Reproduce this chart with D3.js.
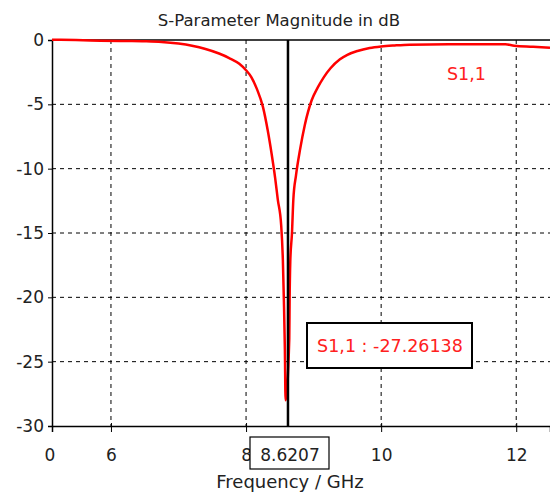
<!DOCTYPE html>
<html>
<head>
<meta charset="utf-8">
<script src="https://cdn.jsdelivr.net/npm/d3@7"></script>
<style>
  html, body { margin: 0; padding: 0; background: white; }
  text { font-family: "DejaVu Sans", Verdana, sans-serif; }
</style>
</head>
<body>
<script>
// S1,1 trace (GHz, dB)
const freq = [5.127, 5.48, 5.84, 6.2, 6.5, 6.75, 7.0, 7.2, 7.4, 7.6, 7.75,
  7.9, 8.0, 8.08, 8.16, 8.25, 8.32, 8.38, 8.43, 8.47, 8.52, 8.545, 8.56,
  8.575, 8.585, 8.64, 8.645, 8.655, 8.68, 8.70, 8.74, 8.80, 8.87, 8.97, 9.06,
  9.15, 9.25, 9.39, 9.5, 9.65, 9.83, 10.0, 10.2, 10.42, 11.0, 11.84, 11.97,
  12.25, 12.5]
const s11 = [0.02, 0, -0.05, -0.08, -0.1, -0.15, -0.28, -0.45, -0.7, -1.05,
  -1.4, -1.85, -2.35, -2.9, -3.8, -5.2, -7.0, -8.9, -10.7, -12.4, -14.4, -17.1,
  -20.2, -24.1, -28.0, -23.2, -20.2, -17.2, -15.0, -12.4, -10.5, -8.5, -6.6,
  -4.7, -3.7, -2.9, -2.2, -1.5, -1.15, -0.85, -0.62, -0.5, -0.42, -0.36, -0.33,
  -0.33, -0.44, -0.52, -0.6]

const xTicks = [6, 8, 10, 12]
const yTicks = [0, -5, -10, -15, -20, -25, -30]
const xDomain = [5.127, 12.5]
const originLabel = "0"

const markerFreq = 8.6207
const markerLabel = "8.6207"
const markerValue = "S1,1 : -27.26138"

// plot box in pixels
const width = 550,
  height = 493,
  pLeft = 52,
  pRight = 550,
  pTop = 40,
  pBottom = 426

const svg = d3.select("body")
  .append("svg")
  .attr("width", width)
  .attr("height", height)

const x = d3.scaleLinear().domain(xDomain).range([pLeft, pRight])
const y = d3.scaleLinear().domain([-30, 0]).range([pBottom, pTop])

// title
svg.append("text")
  .text("S-Parameter Magnitude in dB")
  .attr("x", 279)
  .attr("y", 26)
  .attr("text-anchor", "middle")
  .style("font-size", "16.5px")
  .style("fill", "#222")

// dashed grid
svg.append("g")
  .selectAll("line")
  .data(yTicks.filter(d => d !== 0 && d !== -30))
  .join("line")
  .attr("x1", pLeft).attr("x2", pRight)
  .attr("y1", d => y(d)).attr("y2", d => y(d))
  .attr("stroke", "black")
  .attr("stroke-dasharray", "4,4")
svg.append("g")
  .selectAll("line")
  .data(xTicks)
  .join("line")
  .attr("x1", d => x(d)).attr("x2", d => x(d))
  .attr("y1", pTop).attr("y2", pBottom)
  .attr("stroke", "black")
  .attr("stroke-dasharray", "4,4")

// frame top
svg.append("line")
  .attr("x1", pLeft).attr("x2", pRight)
  .attr("y1", pTop).attr("y2", pTop)
  .attr("stroke", "black").attr("stroke-width", 1.5)

// y axis (plain hyphen minus like the original)
const yAxis = svg.append("g")
  .attr("transform", `translate(${pLeft},0)`)
  .call(d3.axisLeft(y).tickValues(yTicks).tickSize(4).tickPadding(4)
    .tickFormat(d => String(d)))
yAxis.select(".domain").attr("stroke-width", 1.5)
yAxis.selectAll("text")
  .style("font-size", "17px")
  .style("fill", "#222")
  .style("font-family", "DejaVu Sans, Verdana, sans-serif")

// x axis
const xAxis = svg.append("g")
  .attr("transform", `translate(0,${pBottom})`)
  .call(d3.axisBottom(x).tickValues(xTicks).tickSize(6))
xAxis.select(".domain").attr("stroke-width", 1.5)
xAxis.selectAll(".tick line").attr("y1", -3)
xAxis.selectAll("text")
  .attr("y", 35)
  .attr("dy", 0)
  .style("font-size", "17px")
  .style("fill", "#222")
  .style("font-family", "DejaVu Sans, Verdana, sans-serif")
svg.append("text")
  .text(originLabel)
  .attr("x", pLeft - 2)
  .attr("y", pBottom + 35)
  .attr("text-anchor", "middle")
  .style("font-size", "17px")
  .style("fill", "#222")

// x label
svg.append("text")
  .text("Frequency / GHz")
  .attr("x", 290)
  .attr("y", 488)
  .attr("text-anchor", "middle")
  .style("font-size", "18px")
  .style("fill", "#222")

// trace
svg.append("clipPath").attr("id", "clip")
  .append("rect")
  .attr("x", pLeft).attr("y", pTop - 3)
  .attr("width", pRight - pLeft).attr("height", pBottom - pTop + 3)
svg.append("path")
  .datum(freq.map((f, i) => [f, s11[i]]))
  .attr("clip-path", "url(#clip)")
  .attr("fill", "none")
  .attr("stroke", "#ff0000")
  .attr("stroke-width", 2.5)
  .attr("d", d3.line().curve(d3.curveMonotoneX)
    .x(d => x(d[0])).y(d => y(d[1])))

// legend label
svg.append("text")
  .text("S1,1")
  .attr("x", 447)
  .attr("y", 80)
  .style("font-size", "17.5px")
  .style("fill", "#ff2020")

// marker line
svg.append("line")
  .attr("x1", x(markerFreq)).attr("x2", x(markerFreq))
  .attr("y1", pTop).attr("y2", pBottom)
  .attr("stroke", "black")
  .attr("stroke-width", 2.5)

// marker value box
svg.append("rect")
  .attr("x", 307).attr("y", 323)
  .attr("width", 165).attr("height", 45)
  .attr("fill", "white")
  .attr("stroke", "black")
  .attr("stroke-width", 2)
svg.append("text")
  .text(markerValue)
  .attr("x", 390)
  .attr("y", 352)
  .attr("text-anchor", "middle")
  .style("font-size", "17.5px")
  .style("fill", "#ff2020")

// marker frequency box
svg.append("rect")
  .attr("x", 250).attr("y", 437)
  .attr("width", 79).attr("height", 32)
  .attr("fill", "white")
  .attr("stroke", "black")
  .attr("stroke-width", 1.2)
svg.append("text")
  .text(markerLabel)
  .attr("x", 290)
  .attr("y", 461)
  .attr("text-anchor", "middle")
  .style("font-size", "17px")
  .style("fill", "#222")
</script>
</body>
</html>
